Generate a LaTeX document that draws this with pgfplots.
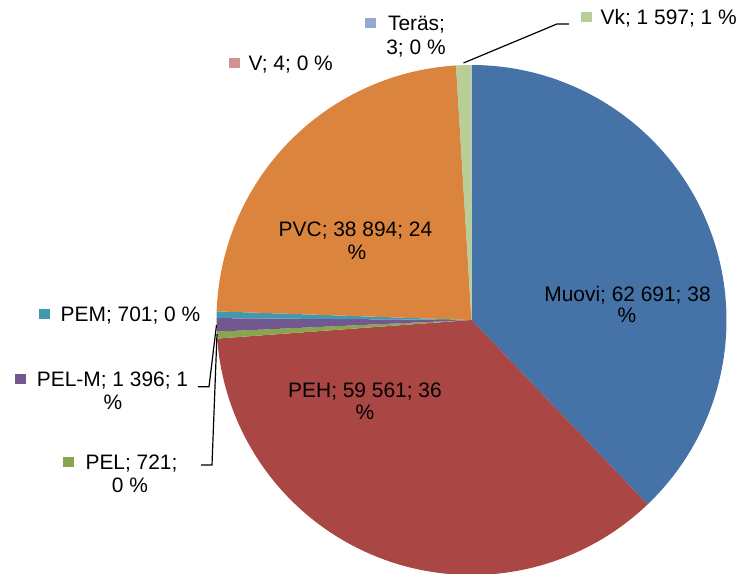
\documentclass[border=0pt]{standalone}
\usepackage{pgfplots}
\pgfplotsset{compat=1.18}
\usepackage{fontspec}
\setmainfont{Liberation Sans}
\definecolor{cMuovi}{HTML}{4572A7}
\definecolor{cPEH}{HTML}{AA4643}
\definecolor{cPEL}{HTML}{89A54E}
\definecolor{cPELM}{HTML}{71588F}
\definecolor{cPEM}{HTML}{4198AF}
\definecolor{cPVC}{HTML}{DB843D}
\definecolor{cTeras}{HTML}{93A9CF}
\definecolor{cV}{HTML}{D19392}
\definecolor{cVk}{HTML}{B9CD96}
% values
\def\vMuovi{62691}
\def\vPEH{59561}
\def\vPEL{721}
\def\vPELM{1396}
\def\vPEM{701}
\def\vPVC{38894}
\def\vTeras{3}
\def\vV{4}
\def\vVk{1597}
\pgfkeys{/pgf/fpu=true,/pgf/fpu/output format=fixed}
\pgfmathsetmacro\tot{\vMuovi+\vPEH+\vPEL+\vPELM+\vPEM+\vPVC+\vTeras+\vV+\vVk}
\pgfmathsetmacro\aA{90-360*\vMuovi/\tot}
\pgfmathsetmacro\aB{\aA-360*\vPEH/\tot}
\pgfmathsetmacro\aC{\aB-360*\vPEL/\tot}
\pgfmathsetmacro\aD{\aC-360*\vPELM/\tot}
\pgfmathsetmacro\aE{\aD-360*\vPEM/\tot}
\pgfmathsetmacro\aF{\aE-360*\vPVC/\tot}
\pgfmathsetmacro\aG{\aF-360*\vTeras/\tot}
\pgfmathsetmacro\aH{\aG-360*\vV/\tot}
\pgfmathsetmacro\aI{\aH-360*\vVk/\tot}
\pgfkeys{/pgf/fpu=false}
\def\cx{471.5}
\def\cy{254}
\def\rr{255}
\begin{document}
\begin{tikzpicture}[lab/.style={font=\fontsize{21}{24}\selectfont, inner sep=0pt, text=black}]
\begin{axis}[width=747bp,height=574bp,scale only axis,
  xmin=0,xmax=747,ymin=0,ymax=574,hide axis,clip=true]
\path (rel axis cs:0,0) rectangle (rel axis cs:1,1);
\addplot[fill=cMuovi,draw=none,domain=\aA:90,samples=120,variable=\t]
  ({\cx+\rr*cos(t)},{\cy+\rr*sin(t)}) -- (axis cs:\cx,\cy) -- cycle;
\addplot[fill=cPEH,draw=none,domain=\aB:\aA,samples=120,variable=\t]
  ({\cx+\rr*cos(t)},{\cy+\rr*sin(t)}) -- (axis cs:\cx,\cy) -- cycle;
\addplot[fill=cPEL,draw=none,domain=\aC:\aB,samples=5,variable=\t]
  ({\cx+\rr*cos(t)},{\cy+\rr*sin(t)}) -- (axis cs:\cx,\cy) -- cycle;
\addplot[fill=cPELM,draw=none,domain=\aD:\aC,samples=5,variable=\t]
  ({\cx+\rr*cos(t)},{\cy+\rr*sin(t)}) -- (axis cs:\cx,\cy) -- cycle;
\addplot[fill=cPEM,draw=none,domain=\aE:\aD,samples=5,variable=\t]
  ({\cx+\rr*cos(t)},{\cy+\rr*sin(t)}) -- (axis cs:\cx,\cy) -- cycle;
\addplot[fill=cPVC,draw=none,domain=\aF:\aE,samples=80,variable=\t]
  ({\cx+\rr*cos(t)},{\cy+\rr*sin(t)}) -- (axis cs:\cx,\cy) -- cycle;
\addplot[fill=cTeras,draw=none,domain=\aG:\aF,samples=2,variable=\t]
  ({\cx+\rr*cos(t)},{\cy+\rr*sin(t)}) -- (axis cs:\cx,\cy) -- cycle;
\addplot[fill=cV,draw=none,domain=\aH:\aG,samples=2,variable=\t]
  ({\cx+\rr*cos(t)},{\cy+\rr*sin(t)}) -- (axis cs:\cx,\cy) -- cycle;
\addplot[fill=cVk,draw=none,domain=\aI:\aH,samples=5,variable=\t]
  ({\cx+\rr*cos(t)},{\cy+\rr*sin(t)}) -- (axis cs:\cx,\cy) -- cycle;
% inside labels
\node[lab,anchor=base] at (axis cs:627.5,272) {Muovi; 62 691; 38};
\node[lab,anchor=base] at (axis cs:627,251) {\%};
\node[lab,anchor=base] at (axis cs:365,176) {PEH; 59 561; 36};
\node[lab,anchor=base] at (axis cs:365,154) {\%};
\node[lab,anchor=base] at (axis cs:355.5,337) {PVC; 38 894; 24};
\node[lab,anchor=base] at (axis cs:357,314) {\%};
% leader lines
\draw[black,line width=1.2pt] (axis cs:569,550) -- (axis cs:557,550) -- (axis cs:463.5,511);
\draw[black,line width=1.2pt] (axis cs:198,187.3) -- (axis cs:209,187.3) -- (axis cs:216.5,249);
\draw[black,line width=1.2pt] (axis cs:201,109) -- (axis cs:212,109) -- (axis cs:217,240);
% outside labels
\node[lab,anchor=base west] at (axis cs:365,543) {\textcolor{cTeras}{\rule[2.5bp]{11bp}{10.5bp}}};
\node[lab,anchor=base] at (axis cs:416.5,543) {Teräs;};
\node[lab,anchor=base] at (axis cs:416,519) {3; 0 \%};
\node[lab,anchor=base west] at (axis cs:229,503) {\textcolor{cV}{\rule[2.5bp]{11bp}{10.5bp}}};
\node[lab,anchor=base west] at (axis cs:248.5,503) {V; 4; 0 \%};
\node[lab,anchor=base west] at (axis cs:581,549) {\textcolor{cVk}{\rule[2.5bp]{11bp}{10.5bp}}};
\node[lab,anchor=base west] at (axis cs:600.5,549) {Vk; 1 597; 1 \%};
\node[lab,anchor=base west] at (axis cs:39,252) {\textcolor{cPEM}{\rule[2.5bp]{11bp}{10.5bp}}};
\node[lab,anchor=base west] at (axis cs:60.5,252) {PEM; 701; 0 \%};
\node[lab,anchor=base west] at (axis cs:15,187) {\textcolor{cPELM}{\rule[2.5bp]{11bp}{10.5bp}}};
\node[lab,anchor=base] at (axis cs:112.5,187) {PEL-M; 1 396; 1};
\node[lab,anchor=base] at (axis cs:113,164) {\%};
\node[lab,anchor=base west] at (axis cs:63,104) {\textcolor{cPEL}{\rule[2.5bp]{11bp}{10.5bp}}};
\node[lab,anchor=base] at (axis cs:131.5,104) {PEL; 721;};
\node[lab,anchor=base] at (axis cs:130,81) {0 \%};
\end{axis}
\end{tikzpicture}
\end{document}
